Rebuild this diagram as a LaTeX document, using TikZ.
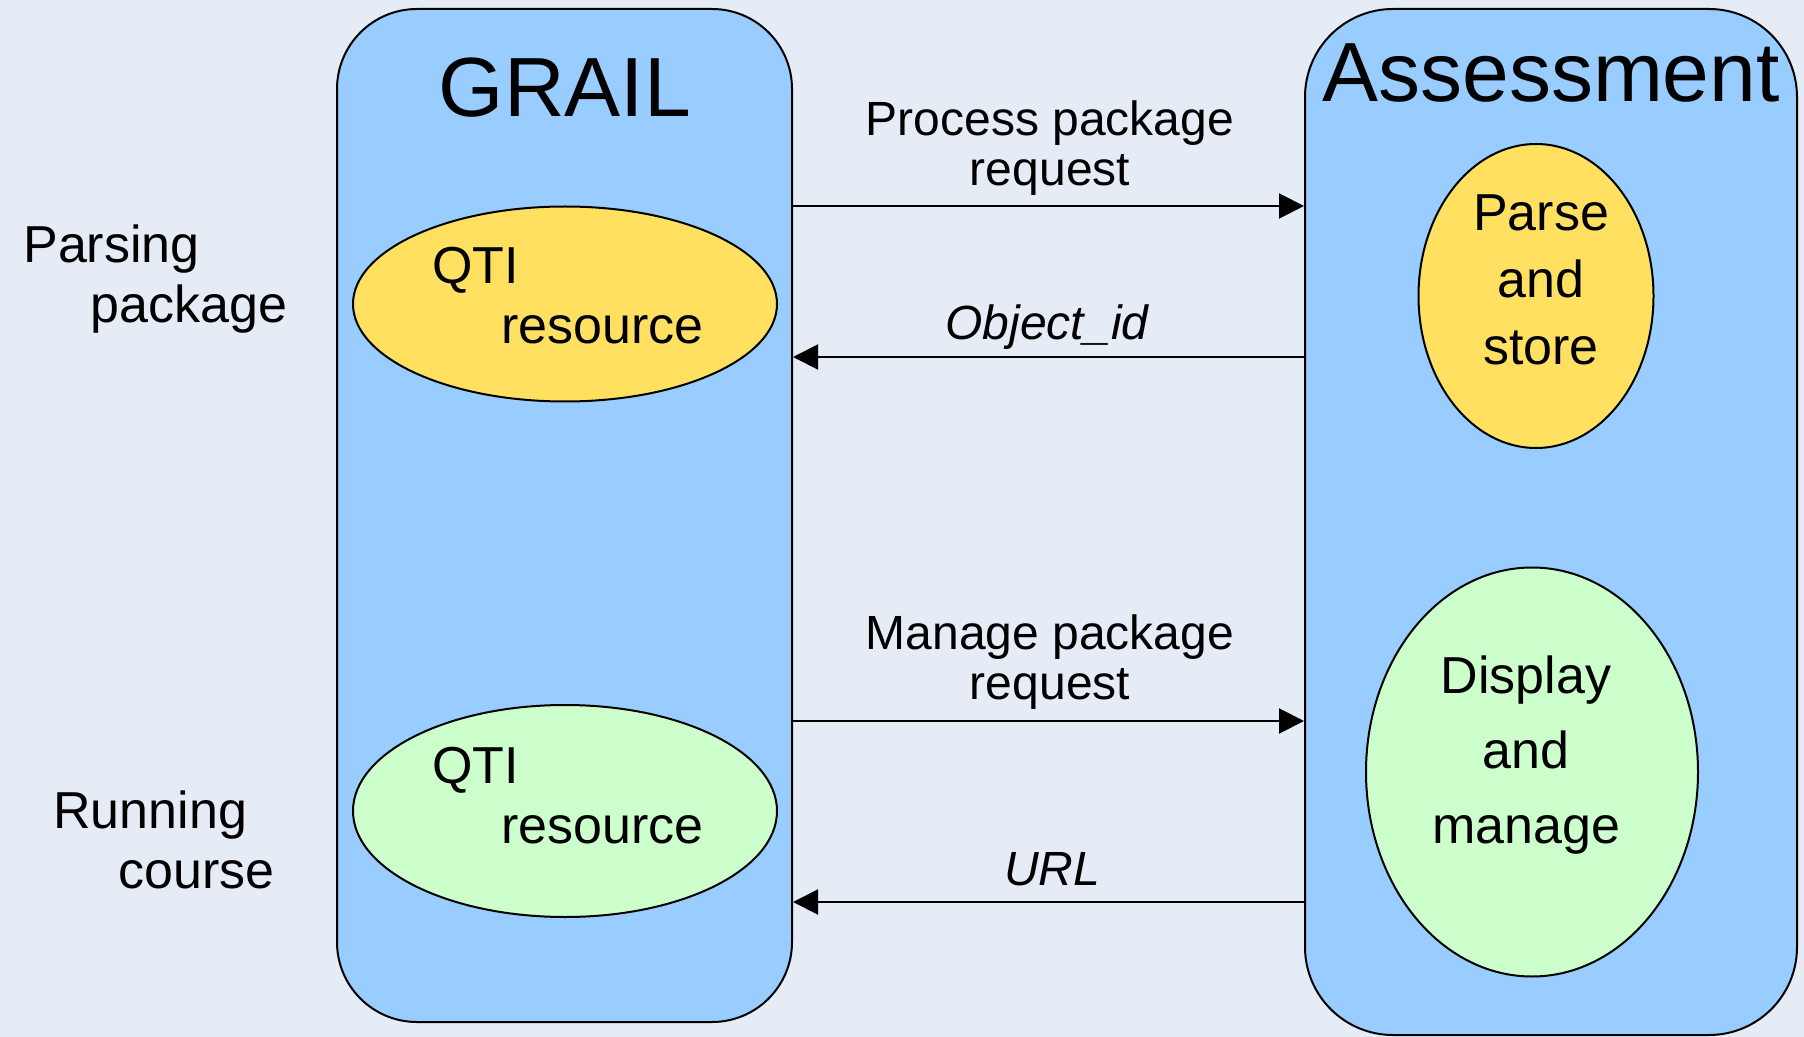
\documentclass[tikz,border=0pt]{standalone}
\usepackage{fontspec}
\setmainfont{Liberation Sans}
\usetikzlibrary{shapes.geometric,arrows.meta}
\definecolor{bgc}{RGB}{229,236,246}
\definecolor{boxc}{RGB}{153,204,255}
\definecolor{yelc}{RGB}{255,224,96}
\definecolor{grnc}{RGB}{204,255,204}
\tikzset{
  lanebox/.style={draw=black, line width=1pt, fill=boxc, rounded corners=40pt, inner sep=0pt},
  blob/.style={draw=black, line width=1pt, ellipse, inner sep=0pt},
  msg/.style={line width=1pt, -{Triangle[length=12.5pt,width=12.5pt]}},
  lbl/.style={inner sep=0pt, font=\fontsize{26}{30}\selectfont},
  arrlbl/.style={inner sep=0pt, align=center, font=\fontsize{24}{25}\selectfont},
  arrlbli/.style={arrlbl, font=\fontsize{24}{25}\selectfont\itshape},
  title/.style={inner sep=0pt, font=\fontsize{42}{48}\selectfont}
}
\begin{document}
\begin{tikzpicture}[x=0.5pt,y=-0.5pt]
\useasboundingbox (0,0) rectangle (1804,1037);
\fill[bgc] (0,0) rectangle (1804,1037);
% lanes
\node[lanebox, minimum width=227.5pt, minimum height=506.5pt] (grail) at (564.5,515.5) {};
\node[lanebox, minimum width=246pt, minimum height=513pt, rounded corners=44pt] (assess) at (1551,522) {};
% titles
\node[title, anchor=base] (tgrail) at (565,117) {GRAIL};
\node[title, anchor=base] (tassess) at (1551,102) {Assessment};
% ellipses
\node[blob, fill=yelc, minimum width=212pt, minimum height=97.5pt] (qti1) at (565,304) {};
\node[blob, fill=grnc, minimum width=212pt, minimum height=106pt] (qti2) at (565,811) {};
\node[blob, fill=yelc, minimum width=117.5pt, minimum height=152pt] (parse) at (1536,296) {};
\node[blob, fill=grnc, minimum width=166pt, minimum height=204.5pt] (disp) at (1532,772) {};
% ellipse texts (anchor base = baseline of last line)
\node[lbl, anchor=base west, align=left] (tq1) at (432,344) {QTI\\\hspace*{34.5pt}resource};
\node[lbl, anchor=base west, align=left] (tq2) at (432,843) {QTI\\\hspace*{34.5pt}resource};
\node[lbl, anchor=base, align=center, font=\fontsize{26}{33.5}\selectfont] (tparse) at (1541,365) {Parse\\and\\store};
\node[lbl, anchor=base, align=center, font=\fontsize{26}{37.5}\selectfont] (tdisp) at (1526,843) {Display\\and\\manage};
% side labels
\node[lbl, anchor=base west, align=left] (side1) at (23,323) {Parsing\\\hspace*{33.5pt}package};
\node[lbl, anchor=base west, align=left] (side2) at (53,888) {Running\\\hspace*{32.5pt}course};
% arrows
\coordinate (r1) at (0,206);
\coordinate (r2) at (0,357);
\coordinate (r3) at (0,721);
\coordinate (r4) at (0,902);
\draw[msg] (grail.east |- r1) -- (assess.west |- r1);
\draw[msg] (assess.west |- r2) -- (grail.east |- r2);
\draw[msg] (grail.east |- r3) -- (assess.west |- r3);
\draw[msg] (assess.west |- r4) -- (grail.east |- r4);
% arrow labels
\node[arrlbl, anchor=base] (l1) at (1050,186) {Process package\\request};
\node[arrlbli, anchor=base] (l2) at (1047,340) {Object\_id};
\node[arrlbl, anchor=base] (l3) at (1050,699) {Manage package\\request};
\node[arrlbli, anchor=base] (l4) at (1052,885) {URL};
\end{tikzpicture}
\end{document}
